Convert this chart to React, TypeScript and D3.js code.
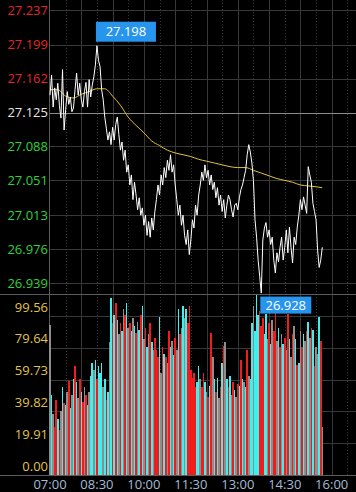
import React from 'react';
import * as d3 from 'd3';

const W = 356;
const H = 492;

const priceTicks = [27.237, 27.199, 27.162, 27.125, 27.088, 27.051, 27.013, 26.976, 26.939];
const prevClose = 27.125;
const volumeTicks = [99.56, 79.64, 59.73, 39.82, 19.91, 0.0];
const timeLabels = ['07:00', '08:30', '10:00', '11:30', '13:00', '14:30', '16:00'];
const timeLabelMinutes = [0, 90, 180, 270, 360, 450, 540];
const stepMinutes = 3;

const prices = [
  27.144, 27.166, 27.131, 27.152, 27.139, 27.157, 27.133, 27.119, 27.172, 27.106,
  27.128, 27.148, 27.134, 27.142, 27.126, 27.130, 27.150, 27.168, 27.144, 27.157,
  27.139, 27.131, 27.148, 27.158, 27.131, 27.161, 27.142, 27.155, 27.164, 27.177,
  27.198, 27.182, 27.175, 27.150, 27.139, 27.120, 27.108, 27.095, 27.104, 27.090,
  27.109, 27.095, 27.112, 27.120, 27.101, 27.084, 27.093, 27.073, 27.084, 27.060,
  27.068, 27.046, 27.057, 27.030, 27.049, 27.035, 27.019, 27.032, 27.013, 27.021,
  27.002, 27.013, 26.991, 27.006, 26.989, 27.010, 26.997, 27.017, 27.030, 27.046,
  27.035, 27.057, 27.046, 27.065, 27.054, 27.073, 27.062, 27.079, 27.060, 27.068,
  27.046, 27.030, 27.013, 27.024, 27.002, 27.013, 26.991, 26.981, 26.997, 26.970,
  26.986, 27.008, 26.999, 27.024, 27.013, 27.035, 27.046, 27.060, 27.051, 27.068,
  27.054, 27.062, 27.046, 27.057, 27.041, 27.049, 27.032, 27.043, 27.024, 27.035,
  27.017, 27.030, 27.010, 27.024, 27.035, 27.030, 27.019, 27.011, 27.024, 27.026,
  27.019, 27.032, 27.041, 27.046, 27.054, 27.062, 27.079, 27.090, 27.082, 27.070,
  27.051, 27.008, 26.989, 26.964, 26.946, 26.928, 26.986, 26.999, 27.005, 26.989,
  26.997, 26.981, 26.989, 26.964, 26.950, 26.972, 26.962, 26.978, 26.989, 26.964,
  26.978, 26.997, 26.972, 27.000, 26.978, 26.961, 26.989, 26.981, 27.000, 27.013,
  27.030, 27.019, 27.033, 27.024, 27.015, 27.066, 27.057, 27.049, 27.026, 27.017,
  27.008, 26.975, 26.956, 26.964, 26.978,
];

const volumes = [
  94, 50, 38, 30, 47, 35, 28, 40, 55, 45,
  44, 52, 59, 42, 50, 60, 68, 58, 48, 60,
  52, 46, 55, 50, 44, 52, 62, 70, 66, 72,
  60, 68, 64, 70, 55, 60, 47, 52, 83, 111,
  95, 100, 108, 97, 88, 95, 90, 104, 100, 108,
  92, 95, 90, 98, 93, 89, 96, 91, 100, 106,
  85, 92, 80, 88, 95, 83, 78, 86, 78, 74,
  99, 64, 80, 76, 74, 70, 90, 80, 84, 75,
  86, 78, 104, 88, 92, 106, 98, 104, 95, 106,
  66, 61, 64, 55, 58, 68, 60, 55, 64, 58,
  52, 49, 56, 89, 74, 60, 52, 61, 48, 55,
  70, 81, 83, 60, 55, 62, 50, 58, 53, 49,
  57, 56, 72, 60, 58, 55, 78, 62, 60, 95,
  106, 90, 112.7, 100, 103, 93, 98, 88, 101, 85,
  95, 82, 97, 90, 104, 84, 92, 80, 88, 82,
  86, 78, 101, 85, 74, 88, 93, 85, 69, 70,
  90, 80, 88, 84, 90, 96, 86, 92, 91, 68,
  80, 76, 99, 84, 30,
];

// r = up (red), c = down (cyan), g = flat (gray)
const volumeSides = (
  'gcgrrcrgcr' + 'cgrcgcrcgr' + 'crgrcgccgc' + 'rcccgcrcgc' + 'rcrcgrcgrc' +
  'grcgcrgcrc' + 'grcgrcgrrr' + 'cgrcrgrcgc' + 'rgcrgcgcrr' + 'rrrrccgrrc' +
  'grcrgcrcgr' + 'crgcrcgrcg' + 'rcrcgcrgcc' + 'gcccrrrccg' + 'rcgrrgcrgc' +
  'rgrcgrgcrc' + 'grcgrcgrcr' + 'ggcrg'
).split('');

const avgIndex = [0, 5, 10, 15, 20, 25, 30, 35, 40, 45, 50, 55, 60, 65, 70, 75, 80, 85, 90, 95,
  100, 105, 110, 115, 120, 125, 130, 135, 140, 145, 150, 155, 160, 165, 170, 174];
const avgPrices = [27.150, 27.150, 27.143, 27.141, 27.145, 27.148, 27.151, 27.151, 27.143, 27.133,
  27.120, 27.111, 27.103, 27.094, 27.089, 27.084, 27.081, 27.079, 27.077, 27.074,
  27.072, 27.070, 27.068, 27.066, 27.065, 27.065, 27.062, 27.059, 27.056, 27.053,
  27.051, 27.049, 27.046, 27.045, 27.044, 27.043];

const sideColor: Record<string, string> = { r: '#f21c1c', c: '#3ff0ee', g: '#8e8e8e' };
const FONT = "'Open Sans', 'Noto Sans', sans-serif";

export default function App() {
  const x = d3.scaleLinear().domain([0, 540]).range([50, 331.7]);
  const yP = d3.scaleLinear().domain([26.939, 27.237]).range([283, 10]);
  const yV = d3.scaleLinear().domain([0, 113.34]).range([475, 294]);
  const step = x(stepMinutes) - x(0);

  const pricePath = d3.line<number>()
    .x((_, i) => x(i * stepMinutes))
    .y((d) => yP(d))(prices) || '';

  const avgPath = d3.line<number>()
    .x((_, i) => x(avgIndex[i] * stepMinutes))
    .y((d) => yP(d))
    .curve(d3.curveMonotoneX)(avgPrices) || '';

  const hiIdx = d3.maxIndex(prices);
  const loIdx = d3.minIndex(prices);
  const hi = prices[hiIdx];
  const lo = prices[loIdx];
  const hiX = x(hiIdx * stepMinutes);
  const loX = x(loIdx * stepMinutes);

  const gridMinutes = d3.range(30, 571, 30);
  const grid = '#383838';
  const border = '#5c5c5c';

  const priceColor = (v: number) =>
    Math.abs(v - prevClose) < 1e-6 ? '#e6e6e6' : v > prevClose ? '#e0262a' : '#2fd23c';

  return (
    <svg width={W} height={H} style={{ position: 'absolute', left: 0, top: 0, display: 'block' }}
      fontFamily={FONT}>
      <rect x={0} y={0} width={W} height={H} fill="#000" />

      {/* vertical grid */}
      {gridMinutes.map((m) => {
        const xx = Math.round(x(m)) + 0.5;
        const solid = m % 60 === 0;
        return (
          <line key={'vg' + m} x1={xx} x2={xx} y1={0} y2={475} stroke={grid}
            strokeWidth={1} strokeDasharray={solid ? undefined : '1,2'} />
        );
      })}

      {/* price grid */}
      {priceTicks.map((t) => {
        const yy = Math.round(yP(t)) + 0.5;
        const isPrev = Math.abs(t - prevClose) < 1e-6;
        return (
          <line key={'pg' + t} x1={49} x2={W} y1={yy} y2={yy}
            stroke={isPrev ? '#8a8a8a' : grid} strokeWidth={1} />
        );
      })}

      {/* volume grid */}
      {volumeTicks.filter((t) => t > 0).map((t) => {
        const yy = Math.round(yV(t)) + 0.5;
        return <line key={'vgl' + t} x1={49} x2={W} y1={yy} y2={yy} stroke={grid} strokeWidth={1} />;
      })}

      {/* borders */}
      <line x1={49.5} x2={49.5} y1={0} y2={475} stroke={border} />
      <line x1={0} x2={W} y1={294.5} y2={294.5} stroke={border} />
      <line x1={0} x2={W} y1={475.5} y2={475.5} stroke={border} />

      {/* volume bars */}
      <g shapeRendering="crispEdges">
        {volumes.map((v, i) => {
          const cx = x(i * stepMinutes);
          return (
            <rect key={'b' + i} x={cx - step / 2} width={step} y={yV(v)} height={yV(0) - yV(v)}
              fill={sideColor[volumeSides[i]]} />
          );
        })}
      </g>

      {/* price and average lines */}
      <path d={avgPath} fill="none" stroke="#e3c23a" strokeWidth={1} />
      <path d={pricePath} fill="none" stroke="#ffffff" strokeWidth={1} />

      {/* price axis labels */}
      {priceTicks.map((t) => (
        <text key={'pl' + t} x={48} y={yP(t)} dy="0.35em" textAnchor="end" fontSize={13}
          fill={priceColor(t)}>{t.toFixed(3)}</text>
      ))}

      {/* volume axis labels */}
      {volumeTicks.map((t) => (
        <text key={'vl' + t} x={48} y={yV(t) - 9} dy="0.35em" textAnchor="end" fontSize={13}
          fill="#e2c24a">{t.toFixed(2)}</text>
      ))}

      {/* time labels */}
      {timeLabels.map((l, i) => (
        <text key={'tl' + l} x={x(timeLabelMinutes[i])} y={489} textAnchor="middle" fontSize={13}
          fill="#a4bcd6">{l}</text>
      ))}

      {/* high / low markers */}
      <rect x={hiX - 1} y={yP(hi) - 24} width={60} height={20} fill="#2794ee" />
      <text x={hiX - 1 + 30} y={yP(hi) - 14} dy="0.35em" textAnchor="middle" fontSize={13}
        fill="#fff">{hi.toFixed(3)}</text>
      <rect x={loX - 1} y={yP(lo) + 3.5} width={51} height={17} fill="#2794ee" />
      <text x={loX - 1 + 25.5} y={yP(lo) + 12} dy="0.35em" textAnchor="middle" fontSize={13}
        fill="#fff">{lo.toFixed(3)}</text>
    </svg>
  );
}
